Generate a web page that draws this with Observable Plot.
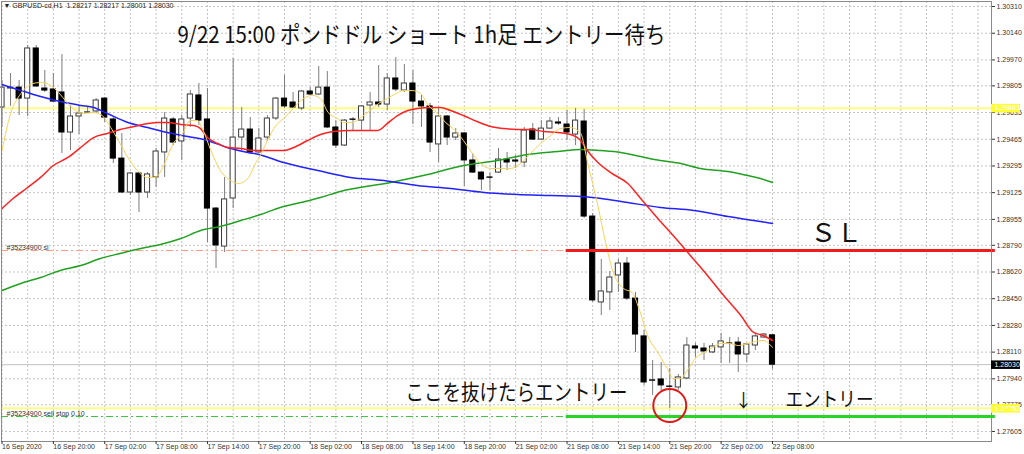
<!DOCTYPE html>
<html><head><meta charset="utf-8">
<script src="https://cdn.jsdelivr.net/npm/d3@7"></script>
<script src="https://cdn.jsdelivr.net/npm/@observablehq/plot@0.6"></script>
<style>html,body{margin:0;padding:0;background:#fff;} #chart svg{display:block}</style>
</head><body><div id="chart"></div>
<script>
// ---- OHLC, one H1 bar per index (16 Sep 14:00 ... 22 Sep 08:00) ----
const open  = [1.29667,1.29788,1.29794,1.29724,1.30043,1.29788,1.29782,1.29763,1.29508,1.29610,
1.29635,1.29642,1.29724,1.29591,1.29342,1.29126,1.29247,1.29126,1.29222,1.29381,
1.29591,1.29451,1.29597,1.29744,1.29591,1.29024,1.28782,1.29088,1.29476,1.29527,
1.29381,1.29476,1.29597,1.29724,1.29699,1.29661,1.29769,1.29750,1.29794,1.29540,
1.29425,1.29591,1.29584,1.29680,1.29699,1.29686,1.29852,1.29775,1.29820,1.29705,
1.29674,1.29432,1.29610,1.29476,1.29502,1.29330,1.29253,1.29222,1.29253,1.29336,
1.29330,1.29317,1.29527,1.29463,1.29533,1.29572,1.29559,1.29495,1.29578,1.28973,
1.28426,1.28490,1.28598,1.28674,1.28451,1.28210,1.27930,1.27936,1.27891,1.27885,
1.27942,1.28146,1.28133,1.28108,1.28140,1.28165,1.28171,1.28095,1.28152,1.28203,1.28217];
const high  = [1.29839,1.29884,1.29839,1.30062,1.30062,1.29903,1.29884,1.30004,1.29680,1.29680,
1.29674,1.29724,1.29731,1.29603,1.29502,1.29253,1.29253,1.29253,1.29406,1.29635,
1.29603,1.29616,1.29775,1.29820,1.29788,1.29030,1.29222,1.29979,1.29667,1.29603,
1.29533,1.29616,1.29731,1.29871,1.29763,1.29775,1.29794,1.29928,1.29896,1.29584,
1.29591,1.29603,1.29680,1.29763,1.29934,1.29884,1.29985,1.29941,1.29903,1.29744,
1.29693,1.29667,1.29616,1.29533,1.29508,1.29374,1.29260,1.29253,1.29406,1.29381,
1.29362,1.29540,1.29565,1.29584,1.29603,1.29603,1.29648,1.29661,1.29654,1.28992,
1.28700,1.28623,1.28700,1.28712,1.28490,1.28248,1.28057,1.28044,1.28006,1.27968,
1.28203,1.28165,1.28165,1.28165,1.28229,1.28203,1.28203,1.28165,1.28229,1.28229,1.28217];
const low   = [1.29540,1.29674,1.29616,1.29610,1.29795,1.29763,1.29699,1.29374,1.29393,1.29495,
1.29629,1.29629,1.29572,1.29311,1.29120,1.29107,1.28999,1.29088,1.29158,1.29222,
1.29425,1.29330,1.29540,1.29553,1.28808,1.28642,1.28744,1.29024,1.29393,1.29374,
1.29374,1.29451,1.29584,1.29661,1.29661,1.29648,1.29744,1.29744,1.29533,1.29406,
1.29419,1.29521,1.29521,1.29521,1.29667,1.29648,1.29769,1.29763,1.29559,1.29540,
1.29381,1.29317,1.29425,1.29457,1.29164,1.29247,1.29139,1.29139,1.29247,1.29266,
1.29279,1.29285,1.29457,1.29457,1.29527,1.29553,1.29457,1.29425,1.28961,1.28426,
1.28343,1.28375,1.28490,1.28439,1.28108,1.27898,1.27834,1.27853,1.27751,1.27866,
1.27936,1.28076,1.28057,1.28101,1.28038,1.28038,1.27980,1.28044,1.28120,1.28197,1.28001];
const close = [1.29794,1.29794,1.29724,1.30043,1.29801,1.29775,1.29705,1.29508,1.29610,1.29629,
1.29637,1.29712,1.29603,1.29342,1.29126,1.29247,1.29126,1.29241,1.29387,1.29597,
1.29444,1.29591,1.29750,1.29584,1.29024,1.28789,1.29082,1.29476,1.29527,1.29381,
1.29470,1.29597,1.29724,1.29674,1.29667,1.29769,1.29750,1.29794,1.29540,1.29425,
1.29584,1.29589,1.29674,1.29699,1.29686,1.29852,1.29782,1.29820,1.29705,1.29674,
1.29444,1.29610,1.29476,1.29502,1.29330,1.29253,1.29209,1.29220,1.29336,1.29317,
1.29323,1.29521,1.29463,1.29533,1.29578,1.29565,1.29508,1.29584,1.28973,1.28439,
1.28496,1.28585,1.28674,1.28451,1.28222,1.27917,1.27928,1.27898,1.27889,1.27949,
1.28152,1.28133,1.28114,1.28146,1.28178,1.28163,1.28095,1.28159,1.28210,1.28222,1.28030];

// ---- moving averages: [bar index, price] ----
const maFast = [[0,1.29393],[1,1.29629],[2.2,1.29756],[3.6,1.29820],[4.5,1.29826],[5.7,1.29807],[6.6,1.29763],[7.6,1.29699],[8.6,1.29648],[9.5,1.29629],[10.7,1.29635],[11.7,1.29616],[12.7,1.29540],[13.6,1.29457],[14.7,1.29349],[15.8,1.29266],[17,1.29222],[17.9,1.29222],[18.9,1.29298],[20,1.29438],[21.1,1.29502],[22,1.29584],[22.8,1.29584],[23.5,1.29521],[24.4,1.29393],[25.5,1.29266],[26.7,1.29203],[27.6,1.29183],[28.8,1.29222],[29.6,1.29311],[30.2,1.29362],[31,1.29457],[32,1.29553],[32.9,1.29597],[34.1,1.29667],[35.2,1.29724],[36.3,1.29744],[37.2,1.29724],[38.1,1.29635],[39.2,1.29597],[39.9,1.29572],[40.9,1.29572],[41.9,1.29603],[43,1.29648],[44,1.29693],[45,1.29724],[46,1.29756],[46.9,1.29775],[47.9,1.29775],[48.9,1.29756],[49.8,1.29680],[50.9,1.29629],[51.8,1.29572],[52.7,1.29533],[53.9,1.29457],[54.7,1.29393],[55.9,1.29311],[57.1,1.29279],[58.2,1.29279],[59.4,1.29279],[60.6,1.29311],[61.7,1.29374],[62.9,1.29438],[64.1,1.29489],[65.2,1.29533],[66.4,1.29540],[67.6,1.29502],[68.4,1.29317],[69.6,1.29043],[70.5,1.28808],[71.4,1.28617],[72.6,1.28515],[73.6,1.28490],[74.4,1.28388],[75.4,1.28216],[76.6,1.28108],[77.7,1.28006],[78.4,1.27942],[79.2,1.27942],[80.2,1.28006],[81,1.28070],[82,1.28108],[83,1.28140],[84,1.28165],[85,1.28165],[86,1.28152],[87.1,1.28165],[88,1.28178],[88.9,1.28184],[90,1.28140]];
const maMid = [[0,1.29024],[1.3,1.29088],[3,1.29158],[4.5,1.29222],[6,1.29298],[7.7,1.29349],[9.2,1.29413],[10.7,1.29476],[12.3,1.29502],[13.8,1.29527],[15.4,1.29546],[17,1.29565],[18.2,1.29572],[19.3,1.29572],[20.9,1.29559],[22.4,1.29553],[23.2,1.29533],[24,1.29476],[25.2,1.29438],[26.3,1.29413],[27.9,1.29406],[29.4,1.29393],[32.9,1.29393],[34.1,1.29413],[35.7,1.29457],[37.2,1.29495],[38.7,1.29514],[40.7,1.29521],[43.9,1.29521],[45,1.29565],[46.2,1.29616],[47.4,1.29648],[48.5,1.29661],[50.1,1.29667],[51.2,1.29667],[52.4,1.29648],[53.9,1.29616],[55.5,1.29578],[57.1,1.29546],[58.6,1.29533],[60.2,1.29527],[61.7,1.29527],[63.3,1.29514],[64.9,1.29508],[66.4,1.29495],[67.6,1.29457],[68.2,1.29406],[69.6,1.29317],[71.1,1.29253],[73.1,1.29183],[74.6,1.29088],[76.6,1.28961],[78.4,1.28852],[80.4,1.28725],[82.4,1.28598],[84.3,1.28470],[86.3,1.28343],[87.8,1.28235],[88.9,1.28216],[90,1.28184]];
const maSlow = [[0,1.29814],[2.2,1.29775],[4.5,1.29737],[6.8,1.29705],[9.2,1.29680],[10.7,1.29667],[12.3,1.29629],[14.7,1.29572],[17,1.29540],[19.3,1.29508],[21.7,1.29483],[24,1.29457],[26.3,1.29413],[28.7,1.29381],[30,1.29368],[32.9,1.29317],[36.9,1.29266],[40.7,1.29222],[44.6,1.29203],[48.5,1.29171],[52.4,1.29152],[56.3,1.29126],[60.2,1.29113],[64.1,1.29107],[67.6,1.29101],[70,1.29088],[73.1,1.29062],[76.9,1.29031],[80.8,1.29012],[84.8,1.28973],[88.6,1.28941],[90,1.28929]];
const maLong = [[0,1.28502],[2.2,1.28547],[4.5,1.28585],[6.8,1.28630],[9.2,1.28661],[11.5,1.28706],[13.8,1.28738],[16.2,1.28770],[18.5,1.28795],[20.9,1.28833],[23.2,1.28884],[25.5,1.28910],[27.9,1.28948],[30.2,1.28986],[32.5,1.29031],[34.9,1.29062],[37.2,1.29094],[39.5,1.29133],[45.4,1.29190],[49.2,1.29234],[53.9,1.29298],[57.9,1.29330],[61.4,1.29368],[64.9,1.29387],[67.6,1.29400],[69.9,1.29393],[72.3,1.29381],[74.6,1.29355],[76.9,1.29330],[79.3,1.29311],[81.6,1.29279],[84.8,1.29260],[87.1,1.29234],[88.6,1.29215],[90,1.29190]];

// ---- axes ----
const priceTicks = [1.30310,1.30140,1.29970,1.29805,1.29635,1.29465,1.29295,1.29125,1.28955,1.28790,1.28620,1.28450,1.28280,1.28110,1.27940,1.27775,1.27605];
const dateTickBars = [0,6,12,18,24,30,36,42,48,54,60,66,72,78,84,90];
const dateLabels = ["16 Sep 2020","16 Sep 20:00","17 Sep 02:00","17 Sep 08:00","17 Sep 14:00","17 Sep 20:00","18 Sep 02:00","18 Sep 08:00","18 Sep 14:00","18 Sep 20:00","21 Sep 02:00","21 Sep 08:00","21 Sep 14:00","21 Sep 20:00","22 Sep 02:00","22 Sep 08:00"];

// ---- levels ----
const yellowLevels = [1.29663, 1.27752];
const bidPrice = 1.28030;
const slPrice = 1.28757;
const entryPrice = 1.27700;
const orderStartBar = 65.9;
const circleBar = 78, circlePrice = 1.27770;
const headerText = "▼ GBPUSD-cd,H1  1.28217 1.28217 1.28001 1.28030";
const orderLabels = [{t:"#35234900 sl", p:slPrice},{t:"#35234900 sell stop 0.10", p:entryPrice}];
const titleText = "9/22 15:00 ポンドドル ショート 1h足 エントリー待ち";
const slText = "ＳＬ";
const breakText = "ここを抜けたらエントリー";
const arrowText = "↓";
const entryText = "エントリー";

// ---- layout ----
const pxPerBar = 8.561;
const xDomain = [-0.5/pxPerBar, 989.5/pxPerBar];
const yDomain = [1.27541, 1.30342];
const boxEnd = xDomain[1] + 29/pxPerBar;

const candles = open.map((o,i)=>({i, o, h:high[i], l:low[i], c:close[i]}));
const labelMap = new Map(dateTickBars.map((b,k)=>[b, dateLabels[k]]));
const gridBars = d3.range(0, 116, 3);
const jp = "'Noto Sans CJK JP', sans-serif";

const chart = Plot.plot({
  width:1024, height:454,
  marginLeft:1, marginRight:33, marginTop:1, marginBottom:13,
  style:{fontFamily:"'Liberation Sans', Arial, sans-serif", background:"#fff", overflow:"visible"},
  x:{domain:xDomain},
  y:{domain:yDomain},
  color:{type:"identity"},
  marks:[
    Plot.gridX(gridBars,{stroke:"#c4c4c4", strokeOpacity:1, strokeDasharray:"2,2"}),
    Plot.gridY(priceTicks,{stroke:"#c4c4c4", strokeOpacity:1, strokeDasharray:"2,2"}),
    Plot.ruleY([bidPrice],{stroke:"#c0c0c0", strokeWidth:1}),
    Plot.ruleY(yellowLevels,{stroke:"#ffff80", strokeWidth:2}),
    Plot.ruleY([slPrice],{x1:()=>xDomain[0], x2:()=>orderStartBar, stroke:"#ff9c86", strokeDasharray:"7,3,2,3"}),
    Plot.ruleY([entryPrice],{x1:()=>xDomain[0], x2:()=>orderStartBar, stroke:"#44c044", strokeDasharray:"7,3,2,3"}),
    Plot.ruleX(candles,{x:"i", y1:"l", y2:"h", stroke:"#7c7c7c"}),
    Plot.rect(candles,{x1:d=>d.i-0.3, x2:d=>d.i+0.3, y1:"o", y2:"c",
      fill:d=>d.c>=d.o?"#ffffff":"#000000", stroke:d=>d.c>=d.o?"#3a3a3a":"#000000", strokeWidth:1}),
    Plot.line(maLong,{x:d=>d[0], y:d=>d[1], stroke:"#22a022", strokeWidth:1.5, curve:"monotone-x"}),
    Plot.line(maSlow,{x:d=>d[0], y:d=>d[1], stroke:"#2222ff", strokeWidth:1.5, curve:"monotone-x"}),
    Plot.line(maMid,{x:d=>d[0], y:d=>d[1], stroke:"#ff2222", strokeWidth:1.5, curve:"monotone-x"}),
    Plot.line(maFast,{x:d=>d[0], y:d=>d[1], stroke:"#f5d35a", strokeWidth:1, curve:"monotone-x"}),
    Plot.ruleY([slPrice],{x1:()=>orderStartBar, x2:()=>xDomain[1]+0.45, stroke:"#ee1c1c", strokeWidth:3}),
    Plot.ruleY([entryPrice],{x1:()=>orderStartBar, x2:()=>xDomain[1]+0.45, stroke:"#26d526", strokeWidth:3}),
    Plot.dot([[circleBar, circlePrice]],{x:d=>d[0], y:d=>d[1], r:16.5, stroke:"#e01818", strokeWidth:2, fill:"none"}),
    Plot.frame({stroke:"#8a8a8a"}),
    Plot.axisY(priceTicks,{anchor:"right", tickSize:3, tickPadding:2, tickFormat:d=>d.toFixed(5), fontSize:7, color:"#333", label:null}),
    Plot.axisX(dateTickBars,{anchor:"bottom", tickSize:3, tickPadding:0, textAnchor:"start", tickFormat:d=>labelMap.get(d), fontSize:7, color:"#333", label:null}),
    // price boxes on the right axis
    Plot.ruleY(yellowLevels,{x1:()=>xDomain[1], x2:()=>boxEnd, stroke:"#ffff30", strokeWidth:8.5}),
    Plot.text(yellowLevels,{y:d=>d, text:d=>d.toFixed(5), frameAnchor:"right", dx:3, textAnchor:"start", fontSize:7, fill:"#ffffff"}),
    Plot.ruleY([bidPrice],{x1:()=>xDomain[1], x2:()=>boxEnd, stroke:"#000000", strokeWidth:8.5}),
    Plot.text([bidPrice],{y:d=>d, text:d=>d.toFixed(5), frameAnchor:"right", dx:3, textAnchor:"start", fontSize:7, fill:"#ffffff"}),
    // header + order labels
    Plot.text([headerText],{text:d=>d, frameAnchor:"top-left", dx:2, dy:2, lineAnchor:"top", textAnchor:"start", fontSize:7, fill:"#222"}),
    Plot.text(orderLabels,{y:d=>d.p, text:d=>d.t, frameAnchor:"left", dx:5, dy:-3, textAnchor:"start", fontSize:7, fill:"#333"}),
    // annotations
    Plot.text([titleText],{text:d=>d, x:()=>20.5, y:()=>1.30122, textAnchor:"start", fontSize:23, fontFamily:jp, fill:"#111"}),
    Plot.text([slText],{text:d=>d, x:()=>94.4, y:()=>1.28862, textAnchor:"start", fontSize:26, fontFamily:jp, fill:"#111"}),
    Plot.text([breakText],{text:d=>d, x:()=>47.13, y:()=>1.27847, textAnchor:"start", fontSize:22, fontFamily:jp, fill:"#111"}),
    Plot.text([arrowText],{text:d=>d, x:()=>86.6, y:()=>1.27796, textAnchor:"middle", fontSize:18, fontFamily:jp, fill:"#111"}),
    Plot.text([entryText],{text:d=>d, x:()=>91.52, y:()=>1.27802, textAnchor:"start", fontSize:20, fontFamily:jp, fill:"#111"})
  ]
});
const fitWidths = new Map([[titleText, 488],[breakText, 222],[entryText, 88]]);
d3.select(chart).selectAll("text").each(function(){
  const w = fitWidths.get(this.textContent);
  if (w) { this.setAttribute("textLength", w); this.setAttribute("lengthAdjust", "spacingAndGlyphs"); }
});
document.getElementById("chart").appendChild(chart);
</script>
</body></html>
